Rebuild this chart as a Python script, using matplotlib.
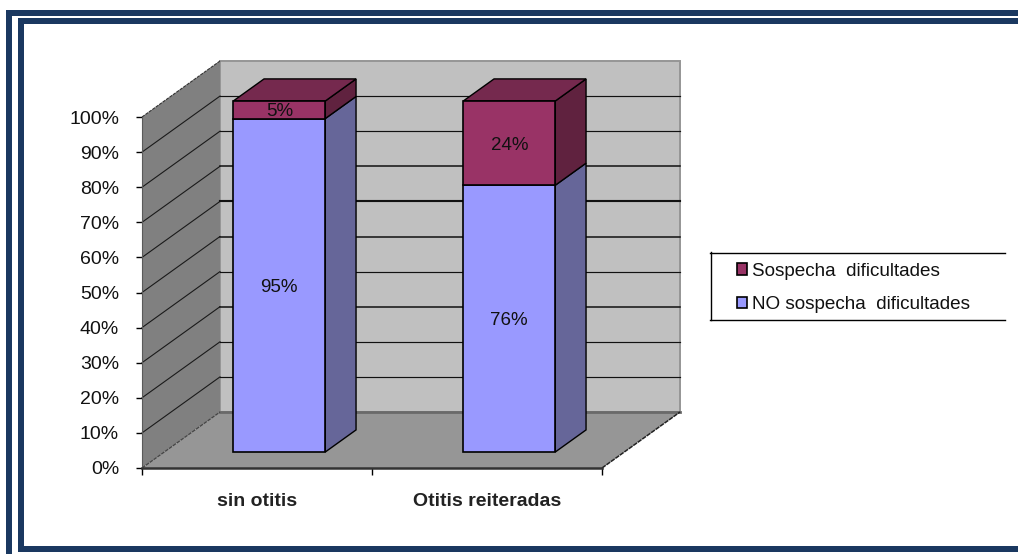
import matplotlib
matplotlib.use("Agg")
import matplotlib.pyplot as plt
from matplotlib.patches import Polygon, Rectangle
from matplotlib.lines import Line2D

categories = ["sin otitis", "Otitis reiteradas"]
no_sospecha = [95, 76]
sospecha = [5, 24]
labels_no = ["95%", "76%"]
labels_si = ["5%", "24%"]
series_names = ["Sospecha  dificultades", "NO sospecha  dificultades"]
y_ticks = list(range(0, 101, 10))
grid_widths = [1.0, 1.0, 1.3, 1.0, 1.3, 1.8, 1.3, 1.0, 1.0, 1.6]

W, H = 1018, 554
plt.rcParams["font.family"] = ["Liberation Sans"]
fig = plt.figure(figsize=(W / 100, H / 100), dpi=100, facecolor="white")

NAVY = "#1a3860"
def frame(x0, y0, x1, y1):
    fig.add_artist(Rectangle((x0 / W, 1 - y1 / H), (x1 - x0) / W, (y1 - y0) / H,
                             transform=fig.transFigure, fc=NAVY, ec="none"))
frame(6, 10, W, 16)
frame(6, 10, 12, H)
frame(18, 18, W, 24)
frame(18, 18, 24, 552)
frame(18, 546, W, 552)

L, R, T, B = 142, 602, 117, 468
ax = fig.add_axes([L / W, 1 - B / H, (R - L) / W, (B - T) / H])
ax.set_xlim(0, 2)
ax.set_ylim(0, 100)
ax.patch.set_visible(False)

DX = 78 / ((R - L) / 2)
DY = 56 / ((B - T) / 100)
def P(x, v, d):
    return (x + d * DX, v + d * DY)
def poly(pts, fc, ec="none", lw=0.0, z=1):
    ax.add_patch(Polygon(pts, closed=True, fc=fc, ec=ec, lw=lw, zorder=z,
                         clip_on=False, joinstyle="miter"))
def seg(a, b, color, lw, z, ls="-"):
    ax.plot([a[0], b[0]], [a[1], b[1]], color=color, lw=lw, ls=ls, zorder=z, clip_on=False)

# walls and floor
poly([P(0, 0, 1), P(2, 0, 1), P(2, 100, 1), P(0, 100, 1)], "#c0c0c0", "#959595", 1.4, 1)
poly([P(0, 0, 0), P(0, 0, 1), P(0, 100, 1), P(0, 100, 0)], "#808080", "none", 0, 1)
for v, w in zip(y_ticks[1:-1], grid_widths):
    seg(P(0, v, 0), P(0, v, 1), "#1a1a1a", 0.8, 2)
    seg(P(0, v, 1), P(2, v, 1), "#111111", w * 0.85, 2)
seg(P(0, 100, 0), P(0, 100, 1), "#333333", 0.8, 2, (0, (3, 0.8)))
poly([P(0, 0, 0), P(2, 0, 0), P(2, 0, 1), P(0, 0, 1)], "#969696", "none", 0, 3)
seg(P(0, 0, 1), P(2, 0, 1), "#6a6a6a", 2, 3)
seg(P(0, 0, 0), P(0, 0, 1), "#444444", 0.9, 3, (0, (3, 0.8)))
seg(P(2, 0, 0), P(2, 0, 1), "#222222", 1.1, 3, (0, (3, 0.6)))

# bars
BW, D0, D1 = 0.4, 0.286, 0.68
def bar_segment(c, v0, v1, front, side, top=None):
    x0, x1 = c - BW / 2, c + BW / 2
    poly([P(x1, v0, D0), P(x1, v0, D1), P(x1, v1, D1), P(x1, v1, D0)], side, "black", 1.0, 5)
    if top:
        poly([P(x0, v1, D0), P(x1, v1, D0), P(x1, v1, D1), P(x0, v1, D1)], top, "black", 1.0, 5)
    poly([P(x0, v0, D0), P(x1, v0, D0), P(x1, v1, D0), P(x0, v1, D0)], front, "black", 1.2, 6)

for i, cat in enumerate(categories):
    c = i + 0.5
    n, s = no_sospecha[i], sospecha[i]
    bar_segment(c, 0, n, "#9999ff", "#666699")
    bar_segment(c, n, n + s, "#993366", "#60223f", "#75294e")
    tx, ty = P(c, n / 2, D0)
    ax.text(tx, ty, labels_no[i], ha="center", va="center_baseline", fontsize=13.5, color="#111111", zorder=8)
    tx, ty = P(c, n + s / 2, D0)
    ax.text(tx, ty, labels_si[i], ha="center", va="center_baseline", fontsize=13.5, color="#111111", zorder=8)

# axes
for s in ("top", "right"):
    ax.spines[s].set_visible(False)
ax.spines["left"].set_color("#5a5a5a")
ax.spines["left"].set_zorder(4)
ax.spines["bottom"].set_linewidth(1.8)
ax.spines["bottom"].set_color("#333333")
ax.spines["bottom"].set_zorder(4)
ax.set_yticks(y_ticks)
ax.set_yticklabels([f"{v}%" for v in y_ticks], fontsize=14, color="#111111")
ax.tick_params(axis="y", length=4.5, width=1, pad=12)
ax.set_xticks([0, 1, 2])
ax.set_xticklabels([])
ax.set_xticks([0.5, 1.5], minor=True)
ax.set_xticklabels(categories, minor=True, fontsize=14, fontweight="bold", color="#222222")
ax.tick_params(axis="x", which="major", length=5, width=1)
ax.tick_params(axis="x", which="minor", length=0, pad=18)

# legend
handles = [Rectangle((0, 0), 1, 1, fc="#993366", ec="black", lw=1.2),
           Rectangle((0, 0), 1, 1, fc="#9999ff", ec="black", lw=1.2)]
fig.legend(handles, series_names, loc="upper left", bbox_to_anchor=(730 / W, 1 - 256 / H),
           bbox_transform=fig.transFigure, frameon=False, fontsize=13.6, handlelength=0.55,
           handleheight=0.55, handletextpad=0.25, labelspacing=0.88, borderpad=0.35, borderaxespad=0,
           labelcolor="#111111")
for x0, x1, y0, y1 in [(710, 1005, 252.5, 252.5), (710.5, 710.5, 252, 320), (710, 1005, 319.5, 319.5)]:
    fig.add_artist(Line2D([x0 / W, x1 / W], [1 - y0 / H, 1 - y1 / H], color="black", lw=1.0,
                          transform=fig.transFigure))

fig.savefig("out.png", dpi=100, facecolor="white")
